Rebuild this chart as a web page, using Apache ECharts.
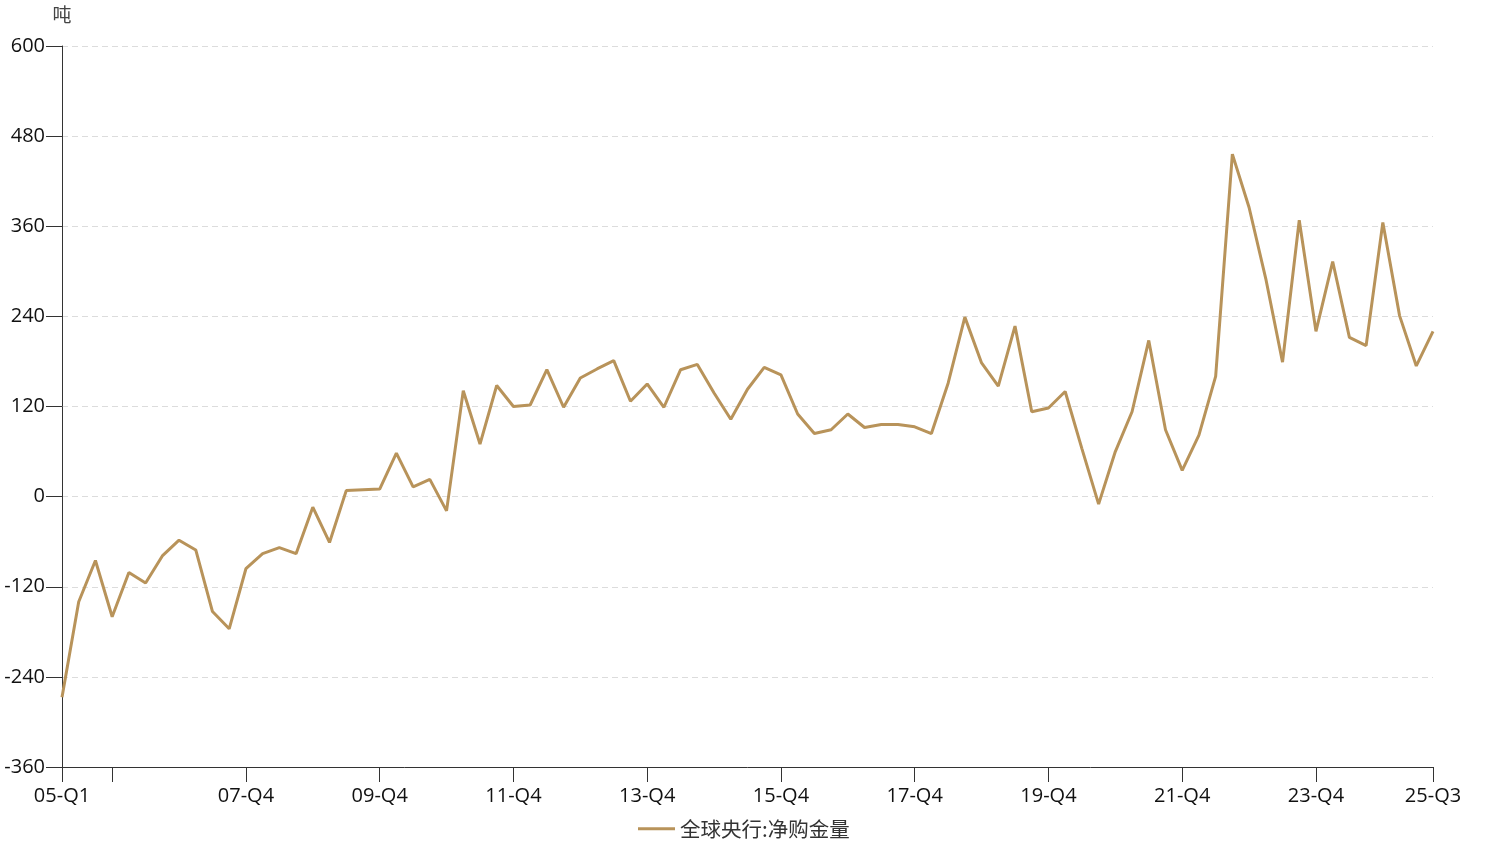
<!DOCTYPE html>
<html>
<head>
<meta charset="utf-8">
<script src="https://cdn.jsdelivr.net/npm/echarts@6/dist/echarts.min.js"></script>
<style>
html,body{margin:0;padding:0;background:#fff;}
#chart{width:1508px;height:849px;}
</style>
</head>
<body>
<div id="chart"></div>
<script>
var categories = [
'05-Q1','05-Q2','05-Q3','05-Q4','06-Q1','06-Q2','06-Q3','06-Q4','07-Q1','07-Q2','07-Q3','07-Q4',
'08-Q1','08-Q2','08-Q3','08-Q4','09-Q1','09-Q2','09-Q3','09-Q4','10-Q1','10-Q2','10-Q3','10-Q4',
'11-Q1','11-Q2','11-Q3','11-Q4','12-Q1','12-Q2','12-Q3','12-Q4','13-Q1','13-Q2','13-Q3','13-Q4',
'14-Q1','14-Q2','14-Q3','14-Q4','15-Q1','15-Q2','15-Q3','15-Q4','16-Q1','16-Q2','16-Q3','16-Q4',
'17-Q1','17-Q2','17-Q3','17-Q4','18-Q1','18-Q2','18-Q3','18-Q4','19-Q1','19-Q2','19-Q3','19-Q4',
'20-Q1','20-Q2','20-Q3','20-Q4','21-Q1','21-Q2','21-Q3','21-Q4','22-Q1','22-Q2','22-Q3','22-Q4',
'23-Q1','23-Q2','23-Q3','23-Q4','24-Q1','24-Q2','24-Q3','24-Q4','25-Q1','25-Q2','25-Q3'
];
var netPurchase = [
-267,-140,-85,-160,-101,-115,-79,-58,-71,-153,-176,-96,
-76,-68,-76,-14,-61,8,9,10,58,13,23,-19,
141,70,148,120,122,169,119,158,170,181,127,150,
119,169,176,138,103,143,172,162,110,84,89,110,
92,96,96,93,84,151,239,178,147,227,113,118,
140,64,-10,60,113,208,89,35,82,160,456,385,
290,179,368,220,313,212,201,365,241,174,220
];
var yTicks = {min: -360, max: 600, step: 120};
var seriesName = '全球央行:净购金量';
var yUnit = '吨';

var lastIdx = categories.length - 1;
function isTick(i){ return i === 0 || i === lastIdx || (i >= 3 && (i - 3) % 8 === 0 && i <= lastIdx - 4); }
function isLabel(i){ return i === 0 || i === lastIdx || (i >= 11 && (i - 3) % 8 === 0 && i <= lastIdx - 4); }

var chart = echarts.init(document.getElementById('chart'), null, {renderer:'canvas'});
var latinFam = '"Open Sans", "Noto Sans CJK SC", sans-serif';
var cjkFam = '"Noto Sans CJK SC", "Open Sans", sans-serif';
chart.setOption({
  animation: false,
  textStyle: {fontFamily: latinFam},
  grid: {left: 62, right: 75, top: 46, bottom: 82},
  legend: {
    bottom: 5, left: 633,
    itemWidth: 37, itemHeight: 14, itemGap: 20,
    textStyle: {fontSize: 20.5, color: '#333', fontFamily: cjkFam},
    data: [{name: seriesName, icon: 'path://M0,6 L37,6 L37,9 L0,9 Z'}]
  },
  xAxis: {
    type: 'category',
    data: categories,
    boundaryGap: false,
    axisLine: {onZero: false, lineStyle: {color: '#333', width: 1}},
    axisTick: {show: true, length: 15, interval: function(i){ return isTick(i); }, lineStyle: {color: '#333'}},
    axisLabel: {interval: function(i){ return isLabel(i); }, fontSize: 20, color: '#111', margin: 19, fontFamily: latinFam},
    splitLine: {show: false}
  },
  yAxis: {
    type: 'value',
    min: yTicks.min, max: yTicks.max, interval: yTicks.step,
    name: yUnit,
    nameLocation: 'end',
    nameGap: 22,
    nameTextStyle: {fontSize: 19, color: '#444', fontFamily: cjkFam},
    axisLine: {show: true, lineStyle: {color: '#333', width: 1}},
    axisTick: {show: true, length: 16, lineStyle: {color: '#333'}},
    axisLabel: {fontSize: 20, color: '#111', margin: 17, fontFamily: latinFam},
    splitLine: {show: true, lineStyle: {type: [6, 4], color: '#dcdcdc', width: 1}}
  },
  series: [{
    name: seriesName,
    type: 'line',
    data: netPurchase,
    symbol: 'none',
    smooth: false,
    lineStyle: {color: '#B8935A', width: 3},
    itemStyle: {color: '#B8935A'}
  }]
});
</script>
</body>
</html>
